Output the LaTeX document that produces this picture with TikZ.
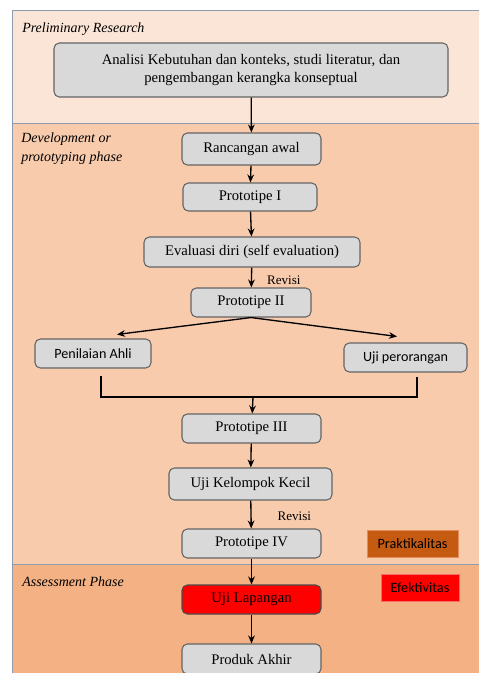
\documentclass[tikz,border=0pt]{standalone}
\usepackage{fontspec}
\setmainfont{Liberation Serif}
\newfontfamily\calfont{Carlito}
\usetikzlibrary{positioning,arrows.meta}
\definecolor{BandTop}{RGB}{251,229,214}
\definecolor{BandMid}{RGB}{248,203,173}
\definecolor{BandLow}{RGB}{244,177,131}
\definecolor{BoxFill}{RGB}{217,217,217}
\definecolor{BoxLine}{RGB}{100,100,100}
\definecolor{Edge}{RGB}{140,155,175}
\definecolor{Brown}{RGB}{197,90,17}
\definecolor{BrownLine}{RGB}{230,140,90}
\definecolor{RedLine}{RGB}{240,110,110}

\begin{document}
\begin{tikzpicture}[
    x=0.75pt,
    y=-0.75pt,
    every node/.style={align=center},
    band/.style={draw=Edge, line width=0.6pt},
    phaselabel/.style={anchor=west, font=\fontsize{10.5}{13}\selectfont\itshape, inner sep=0pt},
    stepbox/.style={
      draw=BoxLine,
      fill=BoxFill,
      rounded corners=4pt,
      line width=0.8pt,
      inner sep=1pt,
      font=\fontsize{11}{14}\selectfont
    },
    sidebox/.style={stepbox, font=\calfont\fontsize{10.6}{12}\selectfont},
    tagbox/.style={
      line width=0.6pt,
      inner sep=1pt,
      font=\calfont\fontsize{10.7}{12}\selectfont
    },
    flow/.style={-{Stealth[length=6pt,width=5pt]}, line width=1pt, color=black},
    link/.style={line width=1pt, color=black},
    note/.style={font=\fontsize{9.8}{11}\selectfont, inner sep=0pt}
  ]

    \useasboundingbox (0,0) rectangle (479,673);
    \clip (0,0) rectangle (479,673);

    % Phase bands
    \fill[BandTop] (12,10) rectangle (479,123);
    \fill[BandMid] (12,123) rectangle (479,564);
    \fill[BandLow] (12,564) rectangle (479,673);
    \draw[band] (479,10) -- (12,10) -- (12,673);
    \draw[band] (12,123) -- (479,123);
    \draw[band] (12,564) -- (479,564);

    % Phase labels
    \node[phaselabel] (lblpre) at (22,29) {Preliminary Research};
    \node[phaselabel] (lbldev) at (21,139) {Development or};
    \node[phaselabel] (lbldev2) at (21,158) {prototyping phase};
    \node[phaselabel] (lblass) at (22,582) {Assessment Phase};

    % Main steps
    \node[stepbox, minimum width=394*0.75pt, minimum height=54*0.75pt] (analisi) at (251,70)
      {Analisi Kebutuhan dan konteks, studi literatur, dan\\pengembangan kerangka konseptual};
    \node[stepbox, minimum width=139*0.75pt, minimum height=32*0.75pt] (rancangan) at (251.5,149) {Rancangan awal};
    \node[stepbox, minimum width=134*0.75pt, minimum height=28*0.75pt] (proto1) at (250,197) {Prototipe I};
    \node[stepbox, minimum width=216*0.75pt, minimum height=30*0.75pt] (evaluasi) at (252,252) {Evaluasi diri (self evaluation)};
    \node[stepbox, minimum width=120*0.75pt, minimum height=29*0.75pt] (proto2) at (251,302.5) {Prototipe II};
    \node[sidebox, minimum width=116*0.75pt, minimum height=29*0.75pt] (penilaian) at (93,353.5) {Penilaian Ahli};
    \node[sidebox, minimum width=123*0.75pt, minimum height=29*0.75pt] (ujiper) at (405.5,357.5) {Uji perorangan};
    \node[stepbox, minimum width=139*0.75pt, minimum height=29*0.75pt] (proto3) at (251.5,428.5) {Prototipe III};
    \node[stepbox, minimum width=163*0.75pt, minimum height=32*0.75pt] (ujikel) at (250.5,484) {Uji Kelompok Kecil};
    \node[stepbox, minimum width=139*0.75pt, minimum height=29*0.75pt] (proto4) at (251.5,543.5) {Prototipe IV};
    \node[stepbox, fill=red, draw=black!70, minimum width=139*0.75pt, minimum height=29*0.75pt] (ujilap) at (251.5,599.5) {Uji Lapangan};
    \node[stepbox, minimum width=139*0.75pt, minimum height=30*0.75pt] (produk) at (251.5,659) {Produk Akhir};

    % Quality tags
    \node[tagbox, draw=BrownLine, fill=Brown, minimum width=91*0.75pt, minimum height=27*0.75pt] (prakt) at (412.5,543.5) {Praktikalitas};
    \node[tagbox, draw=RedLine, fill=red, minimum width=78*0.75pt, minimum height=27*0.75pt] (efek) at (420,587.5) {Efektivitas};

    % Flow arrows
    \draw[flow] (analisi) -- (rancangan);
    \draw[flow] (rancangan) -- (proto1);
    \draw[flow] (proto1) -- (evaluasi);
    \draw[flow] (evaluasi) -- (proto2) node[midway, right=15*0.75pt, yshift=-2pt, note] {Revisi};
    \draw[flow] (proto2.south) -- ([shift={(24,-4)}]penilaian.north);
    \draw[flow] (proto2.south) -- ([shift={(-8.5,-6)}]ujiper.north);

    % Merge of the two reviews
    \coordinate (join) at (253,397);
    \draw[link] ([shift={(8,7)}]penilaian.south) |- (join) -| ([shift={(11.5,4)}]ujiper.south);
    \draw[flow] (join) -- (proto3);

    \draw[flow] (proto3) -- (ujikel);
    \draw[flow] (ujikel) -- (proto4) node[midway, right=26*0.75pt, yshift=-1pt, note] {Revisi};
    \draw[flow] (proto4) -- (ujilap);
    \draw[flow] (ujilap) -- (produk);
  \end{tikzpicture}
\end{document}
